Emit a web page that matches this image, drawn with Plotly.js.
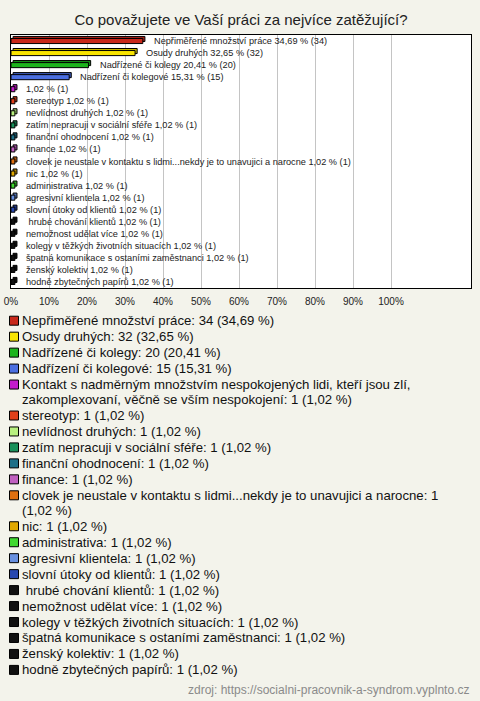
<!DOCTYPE html>
<html>
<head>
<meta charset="utf-8">
<script src="https://cdn.plot.ly/plotly-3.0.1.min.js"></script>
<style>
  html, body { margin: 0; padding: 0; background: #f3f3eb; }
  #chart { width: 480px; height: 701px; outline: 1px solid #555; outline-offset: -1px; position: relative; }
</style>
</head>
<body>
<div id="chart"></div>
<script>
// ---- data ----
const categories = [
  "Nepřiměřené množství práce",
  "Osudy druhých",
  "Nadřízené či kolegy",
  "Nadřízení či kolegové",
  "Kontakt s nadměrným množstvím nespokojených lidi, kteří jsou zlí, zakomplexovaní, věčně se vším nespokojení",
  "stereotyp",
  "nevlídnost druhých",
  "zatím nepracuji v sociální sféře",
  "finanční ohodnocení",
  "finance",
  "clovek je neustale v kontaktu s lidmi...nekdy je to unavujici a narocne",
  "nic",
  "administrativa",
  "agresivní klientela",
  "slovní útoky od klientů",
  " hrubé chování klientů",
  "nemožnost udělat více",
  "kolegy v těžkých životních situacích",
  "špatná komunikace s ostaními zaměstnanci",
  "ženský kolektiv",
  "hodně zbytečných papírů"
];
// labels printed next to the bars (the long one is omitted in the original)
const barLabels = [
  "Nepřiměřené množství práce",
  "Osudy druhých",
  "Nadřízené či kolegy",
  "Nadřízení či kolegové",
  "",
  "stereotyp",
  "nevlídnost druhých",
  "zatím nepracuji v sociální sféře",
  "finanční ohodnocení",
  "finance",
  "clovek je neustale v kontaktu s lidmi...nekdy je to unavujici a narocne",
  "nic",
  "administrativa",
  "agresivní klientela",
  "slovní útoky od klientů",
  " hrubé chování klientů",
  "nemožnost udělat více",
  "kolegy v těžkých životních situacích",
  "špatná komunikace s ostaními zaměstnanci",
  "ženský kolektiv",
  "hodně zbytečných papírů"
];
const counts = [34, 32, 20, 15, 1, 1, 1, 1, 1, 1, 1, 1, 1, 1, 1, 1, 1, 1, 1, 1, 1];
const percents = [34.69, 32.65, 20.41, 15.31, 1.02, 1.02, 1.02, 1.02, 1.02, 1.02, 1.02, 1.02, 1.02, 1.02, 1.02, 1.02, 1.02, 1.02, 1.02, 1.02, 1.02];
const colors = [
  "#c8281a", "#f8e400", "#1cb41c", "#4a6ee0", "#c41ccc", "#e0401a", "#b8f080",
  "#18905a", "#1e7088", "#c060c0", "#e07010", "#e0a800", "#40d830", "#6890e0",
  "#2848b0", "#111111", "#111111", "#111111", "#111111", "#111111", "#111111"
];
const tickValues = [0, 10, 20, 30, 40, 50, 60, 70, 80, 90, 100];
const tickLabels = ["0%", "10%", "20%", "30%", "40%", "50%", "60%", "70%", "80%", "90%", "100%"];
const titleText = "Co považujete ve Vaší práci za nejvíce zatěžující?";
const sourceText = "zdroj: https://socialni-pracovnik-a-syndrom.vyplnto.cz";

// ---- helpers ----
const W = 480, H = 701;
const M = { l: 11, r: 9, t: 35, b: 413 };
const plotW = W - M.l - M.r, plotH = H - M.t - M.b;
const px2x = px => (px - M.l) / plotW;
const py2y = py => (H - M.b - py) / plotH;
const fmt = v => v.toFixed(2).replace(".", ",");
const keepLead = s => s.replace(/^ +/, m => "\u00a0".repeat(m.length));
const FONT = "Liberation Sans, Arial, sans-serif";

function shade(hex, f) {
  const n = parseInt(hex.slice(1), 16);
  const r = Math.round(((n >> 16) & 255) * f), g = Math.round(((n >> 8) & 255) * f), b = Math.round((n & 255) * f);
  return "rgb(" + r + "," + g + "," + b + ")";
}

const barWidth = 0.42;
const depthPct = 0.55;   // 3D depth along x (in axis units)
const depthCat = 0.17;   // 3D depth along y (in category units)

const backTrace = {
  type: "bar", orientation: "h",
  x: percents, y: categories, base: depthPct,
  width: barWidth, offset: -barWidth / 2 - depthCat,
  marker: { color: colors.map(c => shade(c, 0.8)), line: { color: "#000", width: 1 } },
  hoverinfo: "skip", showlegend: false
};
const frontTrace = {
  type: "bar", orientation: "h",
  x: percents, y: categories,
  width: barWidth,
  marker: { color: colors, line: { color: "#000", width: 1 } },
  showlegend: false
};

const annotations = [];
const shapes = [];

// bar value labels
categories.forEach((c, i) => {
  const lbl = (barLabels[i] ? barLabels[i] + " " : "") + fmt(percents[i]) + " % (" + counts[i] + ")";
  annotations.push({
    x: percents[i], y: c, xref: "x", yref: "y", xanchor: "left", yanchor: "middle",
    xshift: 9, text: keepLead(lbl), showarrow: false,
    font: { family: FONT, size: 9.2, color: "#222" }
  });
});

// custom legend below the plot
const legStart = 320.7, lineGap = 15, legGap = 15.96, maxChars = 76;
function wrap(s) {
  const words = s.split(" ");
  const lines = []; let cur = "";
  words.forEach(w => {
    const t = cur === "" ? w : cur + " " + w;
    if (t.length > maxChars && cur !== "") { lines.push(cur); cur = w; } else cur = t;
  });
  lines.push(cur);
  return lines;
}
let yy = legStart;
categories.forEach((c, i) => {
  const full = keepLead(c) + ": " + counts[i] + " (" + fmt(percents[i]) + " %)";
  const lines = wrap(full);
  shapes.push({
    type: "rect", xref: "paper", yref: "paper",
    x0: px2x(9.5), x1: px2x(18.5), y0: py2y(yy - 4.5), y1: py2y(yy + 4.5),
    fillcolor: colors[i], line: { color: "#000", width: 1 }
  });
  lines.forEach((ln, k) => {
    annotations.push({
      x: px2x(19.5), y: py2y(yy + k * lineGap), xref: "paper", yref: "paper",
      xanchor: "left", yanchor: "middle", text: ln, showarrow: false,
      font: { family: FONT, size: 13.2, color: "#111" }
    });
  });
  yy += legGap + (lines.length - 1) * lineGap;
});

// source note
annotations.push({
  x: px2x(471), y: py2y(690), xref: "paper", yref: "paper", xanchor: "right", yanchor: "middle",
  text: sourceText, showarrow: false, font: { family: FONT, size: 12, color: "#8a8a8a" }
});

const layout = {
  width: W, height: H,
  margin: M,
  paper_bgcolor: "#f3f3eb",
  plot_bgcolor: "#ffffff",
  barmode: "overlay",
  bargap: 0,
  title: {
    text: titleText, x: 0.5, xref: "paper", xanchor: "center",
    y: 1 - 20 / H, yref: "container", yanchor: "middle",
    font: { family: FONT, size: 15, color: "#222" }
  },
  xaxis: {
    range: [0, plotW / 3.8], // 3.8px per percent
    tickvals: tickValues, ticktext: tickLabels,
    showgrid: true, gridcolor: "#c4c4c4", gridwidth: 1,
    zeroline: false, showline: true, linecolor: "#000", linewidth: 1, mirror: true,
    ticks: "outside", ticklen: 4, tickcolor: "rgba(0,0,0,0)",
    tickfont: { family: FONT, size: 10, color: "#222" },
    fixedrange: true
  },
  yaxis: {
    type: "category", categoryorder: "array", categoryarray: categories,
    range: [categories.length - 0.5, -0.5],
    showticklabels: false, showgrid: false, zeroline: false,
    showline: true, linecolor: "#000", linewidth: 1, mirror: true, ticks: "",
    fixedrange: true
  },
  annotations: annotations,
  shapes: shapes,
  showlegend: false,
  font: { family: FONT }
};

Plotly.newPlot("chart", [backTrace, frontTrace], layout, { displayModeBar: false, staticPlot: true });
</script>
</body>
</html>
